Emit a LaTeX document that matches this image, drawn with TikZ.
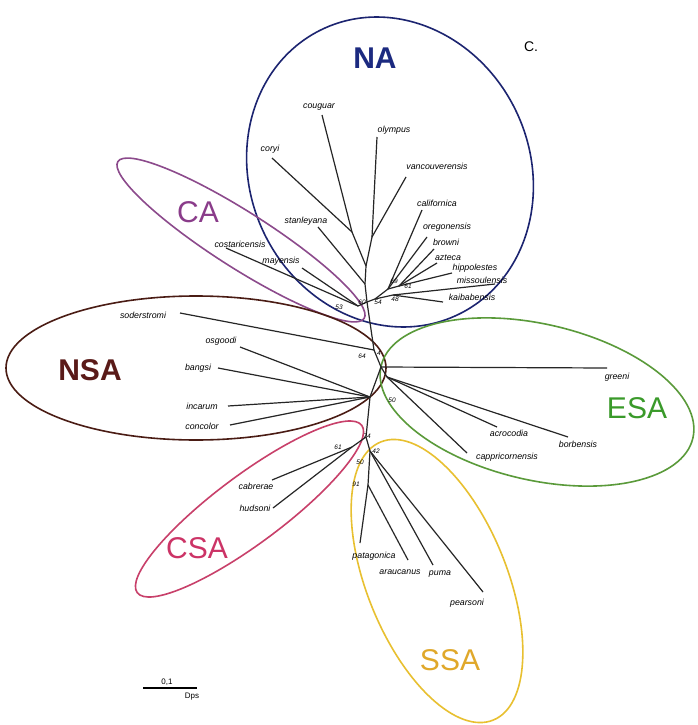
\documentclass[tikz,border=0pt]{standalone}
\usepackage{fontspec}
\setmainfont{Liberation Sans}
\definecolor{nacol}{HTML}{1C2470}
\definecolor{nalab}{HTML}{1C2A80}
\definecolor{cacol}{HTML}{8C4A8C}
\definecolor{calab}{HTML}{8A3C8A}
\definecolor{nsacol}{HTML}{4A1C14}
\definecolor{nsalab}{HTML}{5A1A18}
\definecolor{esacol}{HTML}{5A9A3A}
\definecolor{esalab}{HTML}{3A9A2A}
\definecolor{csacol}{HTML}{C8406A}
\definecolor{csalab}{HTML}{CC3366}
\definecolor{ssacol}{HTML}{E8C030}
\definecolor{ssalab}{HTML}{E0A82A}
\begin{document}
\begin{tikzpicture}[x=1pt,y=-1pt,
  branch/.style={line width=1.2pt, black!85},
  leaf/.style={font=\fontsize{8.8}{9}\selectfont\itshape, inner sep=0pt},
  boot/.style={font=\fontsize{6.5}{7}\selectfont\itshape, inner sep=0pt},
  clade/.style={line width=1.6pt},
  big/.style={font=\fontsize{30}{32}\selectfont, inner sep=0pt},
  bigb/.style={font=\fontsize{30}{32}\selectfont\bfseries, inner sep=0pt}]
\useasboundingbox (0,0) rectangle (697,725);
\fill[white] (0,0) rectangle (697,725);

% ---------- clade ellipses ----------
\draw[clade, nacol, rotate around={25:(390,172)}] (390,172) ellipse [x radius=140pt, y radius=158pt];
\draw[clade, cacol, rotate around={-32.5:(241,240)}] (241,240) ellipse [x radius=146pt, y radius=28pt];
\draw[clade, nsacol] (196,368) ellipse [x radius=190pt, y radius=72pt];
\draw[clade, esacol, rotate around={-13:(537,402)}] (537,402) ellipse [x radius=160pt, y radius=78pt];
\draw[clade, csacol, rotate around={36.7:(249.5,509)}] (249.5,509) ellipse [x radius=140pt, y radius=34pt];
\draw[clade, ssacol, rotate around={-68:(437,581)}] (437,581) ellipse [x radius=150pt, y radius=70pt];

% ---------- tree coordinates ----------
% backbone
\coordinate (r60) at (367,302);
\coordinate (r4) at (374,350);
\coordinate (rE) at (381,367);
\coordinate (rN) at (370,397);
\coordinate (r74) at (366,437);
% NA
\coordinate (nS) at (365,284);
\coordinate (nUp) at (366,266);
\coordinate (nCC) at (352,232);
\coordinate (nOV) at (372,237);
\coordinate (n54) at (375,299);
\coordinate (n69) at (388,289);
\coordinate (n61) at (399,286);
\coordinate (n48) at (393,295);
\coordinate (tCoug) at (322,115);
\coordinate (tCory) at (272,158);
\coordinate (tOly) at (377,137);
\coordinate (tVan) at (406,177);
\coordinate (tStan) at (318,227);
\coordinate (tCal) at (422,210);
\coordinate (tOre) at (427,237);
\coordinate (tBro) at (434,249);
\coordinate (tAzt) at (437,263);
\coordinate (tHip) at (452,273);
\coordinate (tMis) at (495,284);
\coordinate (tKai) at (443,302);
% CA
\coordinate (nCA) at (358,306);
\coordinate (tCos) at (226,248);
\coordinate (tMay) at (302,268);
% NSA
\coordinate (tSod) at (180,313);
\coordinate (tOsg) at (240,347);
\coordinate (tBan) at (218,368);
\coordinate (tInc) at (228,406);
\coordinate (tCon) at (230,425);
% ESA
\coordinate (nE) at (387,377);
\coordinate (tGre) at (607,368);
\coordinate (tAcr) at (497,427);
\coordinate (tBor) at (568,437);
\coordinate (tCap) at (467,453);
% CSA
\coordinate (nC) at (352,447);
\coordinate (tCab) at (272,480);
\coordinate (tHud) at (273,508);
% SSA
\coordinate (n42) at (370,451);
\coordinate (n91) at (368,485);
\coordinate (tPat) at (360,543);
\coordinate (tAra) at (408,560);
\coordinate (tPum) at (433,565);
\coordinate (tPea) at (483,592);

% ---------- branches ----------
\draw[branch] (r60) -- (r4) -- (rE) -- (rN) -- (r74);
\draw[branch] (r60) -- (nS) -- (nUp);
\draw[branch] (nUp) -- (nCC); \draw[branch] (nUp) -- (nOV);
\draw[branch] (nCC) -- (tCoug); \draw[branch] (nCC) -- (tCory);
\draw[branch] (nOV) -- (tOly); \draw[branch] (nOV) -- (tVan);
\draw[branch] (nS) -- (tStan);
\draw[branch] (r60) -- (n54);
\draw[branch] (n54) -- (n69); \draw[branch] (n54) -- (n48);
\draw[branch] (n69) -- (tCal); \draw[branch] (n69) -- (tOre);
\draw[branch] (n69) -- (n61);
\draw[branch] (n61) -- (tBro); \draw[branch] (n61) -- (tAzt); \draw[branch] (n61) -- (tHip);
\draw[branch] (n48) -- (tMis); \draw[branch] (n48) -- (tKai);
\draw[branch] (r60) -- (nCA);
\draw[branch] (nCA) -- (tCos); \draw[branch] (nCA) -- (tMay);
\draw[branch] (r4) -- (tSod);
\draw[branch] (rN) -- (tOsg); \draw[branch] (rN) -- (tBan);
\draw[branch] (rN) -- (tInc); \draw[branch] (rN) -- (tCon);
\draw[branch] (rE) -- (tGre);
\draw[branch] (rE) -- (nE);
\draw[branch] (nE) -- (tAcr); \draw[branch] (nE) -- (tBor); \draw[branch] (nE) -- (tCap);
\draw[branch] (r74) -- (nC);
\draw[branch] (nC) -- (tCab); \draw[branch] (nC) -- (tHud);
\draw[branch] (r74) -- (n42);
\draw[branch] (n42) -- (n91);
\draw[branch] (n91) -- (tPat); \draw[branch] (n91) -- (tAra);
\draw[branch] (n42) -- (tPum); \draw[branch] (n42) -- (tPea);

% ---------- leaf labels ----------
\node[leaf] (lCoug) at (319,107) {couguar};
\node[leaf] (lOly) at (394,130) {olympus};
\node[leaf] (lCory) at (270,149) {coryi};
\node[leaf] (lVan) at (437,166) {vancouverensis};
\node[leaf] (lCal) at (437,203) {californica};
\node[leaf] (lStan) at (306,221) {stanleyana};
\node[leaf] (lOre) at (447,227) {oregonensis};
\node[leaf] (lBro) at (446,242) {browni};
\node[leaf] (lAzt) at (448,258) {azteca};
\node[leaf] (lHip) at (475,268) {hippolestes};
\node[leaf] (lMis) at (482,280) {missoulensis};
\node[leaf] (lKai) at (472,297) {kaibabensis};
\node[leaf] (lCos) at (240,244) {costaricensis};
\node[leaf] (lMay) at (281,261) {mayensis};
\node[leaf] (lSod) at (143,315) {soderstromi};
\node[leaf] (lOsg) at (221,341) {osgoodi};
\node[leaf] (lBan) at (198,368) {bangsi};
\node[leaf] (lInc) at (202,406) {incarum};
\node[leaf] (lCon) at (202,426) {concolor};
\node[leaf] (lGre) at (617,377) {greeni};
\node[leaf] (lAcr) at (509,433) {acrocodia};
\node[leaf] (lBor) at (578,444) {borbensis};
\node[leaf] (lCap) at (507,457) {cappricornensis};
\node[leaf] (lCab) at (256,486) {cabrerae};
\node[leaf] (lHud) at (255,508) {hudsoni};
\node[leaf] (lPat) at (374,556) {patagonica};
\node[leaf] (lAra) at (400,572) {araucanus};
\node[leaf] (lPum) at (440,574) {puma};
\node[leaf] (lPea) at (467,603) {pearsoni};

% ---------- support values ----------
\node[boot] (b60) at (362,302) {60};
\node[boot] (b54) at (378,302) {54};
\node[boot] (b53) at (339,307) {53};
\node[boot] (b69) at (394,281) {69};
\node[boot] (b61a) at (408,286) {61};
\node[boot] (b48) at (395,299) {48};
\node[boot] (b64) at (362,356) {64};
\node[boot] (b4) at (379,353) {4};
\node[boot] (b50a) at (392,400) {50};
\node[boot] (b74) at (367,436) {74};
\node[boot] (b61b) at (338,447) {61};
\node[boot] (b42) at (376,451) {42};
\node[boot] (b50b) at (360,462) {50};
\node[boot] (b91) at (356,484) {91};

% ---------- clade names ----------
\node[bigb, text=nalab] (NA) at (375,58) {NA};
\node[big, text=calab] (CA) at (198,212) {CA};
\node[bigb, text=nsalab] (NSA) at (90,370) {NSA};
\node[big, text=esalab] (ESA) at (637,408) {ESA};
\node[big, text=csalab] (CSA) at (197,548) {CSA};
\node[big, text=ssalab] (SSA) at (450,660) {SSA};
\node[font=\fontsize{14}{16}\selectfont, inner sep=0pt] (panel) at (531,47) {C.};

% ---------- scale bar ----------
\coordinate (sb1) at (143,688);
\coordinate (sb2) at (197,688);
\draw[line width=1.1pt] (sb1) -- (sb2);
\node[font=\fontsize{8}{9}\selectfont, inner sep=0pt] (sbl) at (167,682) {0,1};
\node[font=\fontsize{8}{9}\selectfont, inner sep=0pt] (sbu) at (192,697) {Dps};
\end{tikzpicture}
\end{document}
